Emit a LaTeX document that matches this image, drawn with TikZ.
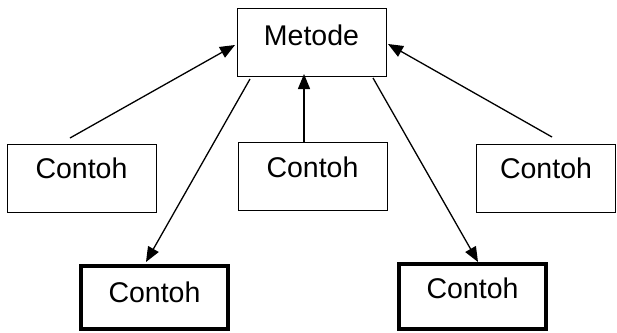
\documentclass[tikz,border=0pt]{standalone}
\usepackage{fontspec}
\setmainfont{Liberation Sans}
\usetikzlibrary{arrows.meta}
\begin{document}
\begin{tikzpicture}[x=1pt,y=-1pt,
  box/.style={draw, line width=1pt, inner sep=0pt, minimum width=149pt, minimum height=68pt,
    font=\fontsize{28.5pt}{30pt}\selectfont, text height=20pt, text depth=20pt},
  thickbox/.style={box, line width=4pt, minimum width=147pt},
  arr/.style={line width=1.3pt, -{Triangle[length=15pt,width=12pt]}}]
\useasboundingbox (0,0) rectangle (617,332);
\node[box, text depth=14pt] (m) at (311.5,42) {Metode};
\node[box, text depth=20pt] (c1) at (81.5,178) {Contoh};
\node[box, text depth=18pt] (c2) at (312.5,176) {Contoh};
\node[box, minimum width=139pt, text depth=20pt] (c3) at (546,178) {Contoh};
\node[thickbox, minimum height=63pt, text depth=11pt] (c4) at (154.5,297.5) {Contoh};
\node[thickbox, minimum height=65pt, text depth=17pt] (c5) at (472.5,296.5) {Contoh};
\coordinate (s1) at (70,138);
\coordinate (t1) at (235,45);
\coordinate (s2) at (552,137);
\coordinate (t2) at (388,44);
\coordinate (t3) at (304,74);
\coordinate (s4) at (250,79);
\coordinate (t4) at (146,262);
\coordinate (s5) at (373,78);
\coordinate (t5) at (478,262);
\draw[arr] (s1) -- (t1);
\draw[arr] (s2) -- (t2);
\draw[arr] (c2.north -| t3) -- (t3);
\draw[arr] (s4) -- (t4);
\draw[arr] (s5) -- (t5);
\end{tikzpicture}
\end{document}
